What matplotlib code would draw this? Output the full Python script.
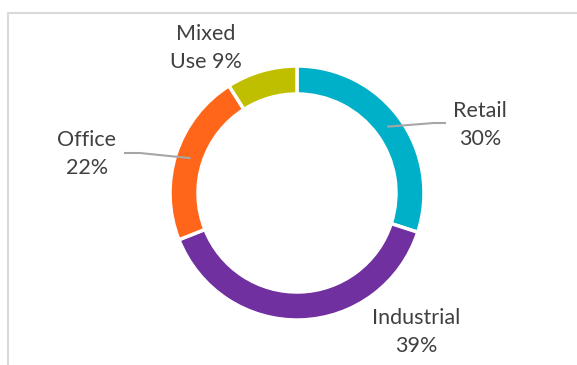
import numpy as np
import matplotlib
matplotlib.use("Agg")
import matplotlib.pyplot as plt

labels = ["Retail", "Industrial", "Office", "Mixed\nUse"]
values = [30, 39, 22, 9]
colors = ["#00B0C8", "#7030A0", "#FF661A", "#BFBF00"]

W, H = 577, 365
fig = plt.figure(figsize=(W / 100, H / 100), dpi=100)
ax = fig.add_axes([0, 0, 1, 1])
ax.set_xlim(0, W); ax.set_ylim(0, H); ax.set_aspect("equal"); ax.axis("off")

# chart frame (only top/left edges visible in the crop)
ax.plot([8, 8, W + 5], [-5, H - 13, H - 13], color="#D9D9D9", lw=1.5)

cx, cy, R, ring = 297, H - 193, 127, 28
ax.pie(values, colors=colors, startangle=90, counterclock=False, center=(cx, cy), radius=R,
       wedgeprops=dict(width=ring, edgecolor="white", linewidth=2.5), frame=True)
ax.set_xlim(0, W); ax.set_ylim(0, H); ax.axis("off")

# label text positions (px from top-left) and leader ends
pos = [(480, 125), (416, 332), (87, 154), (206, 48)]
leader_end = {0: [(434, 123), (445, 123)], 2: [(140, 153), (125, 153)]}
tc = "#404040"
cum = np.cumsum([0] + values)
for i, (lab, v) in enumerate(zip(labels, values)):
    txt = f"{lab} {v}%" if "\n" in lab else f"{lab}\n{v}%"
    x, y = pos[i]
    ax.text(x, H - y, txt, ha="center", va="center", fontsize=15.5, family="Lato",
            color=tc, linespacing=1.55)
    if i in leader_end:
        mid = (cum[i] + v / 2) / 100 * 2 * np.pi
        rm = R - ring / 2
        sx, sy = cx + rm * np.sin(mid), cy + rm * np.cos(mid)
        pts = [(sx, sy)] + [(px, H - py) for px, py in leader_end[i]]
        ax.plot([p[0] for p in pts], [p[1] for p in pts], color="#A6A6A6", lw=1.5)

fig.savefig("out.png", dpi=100)
